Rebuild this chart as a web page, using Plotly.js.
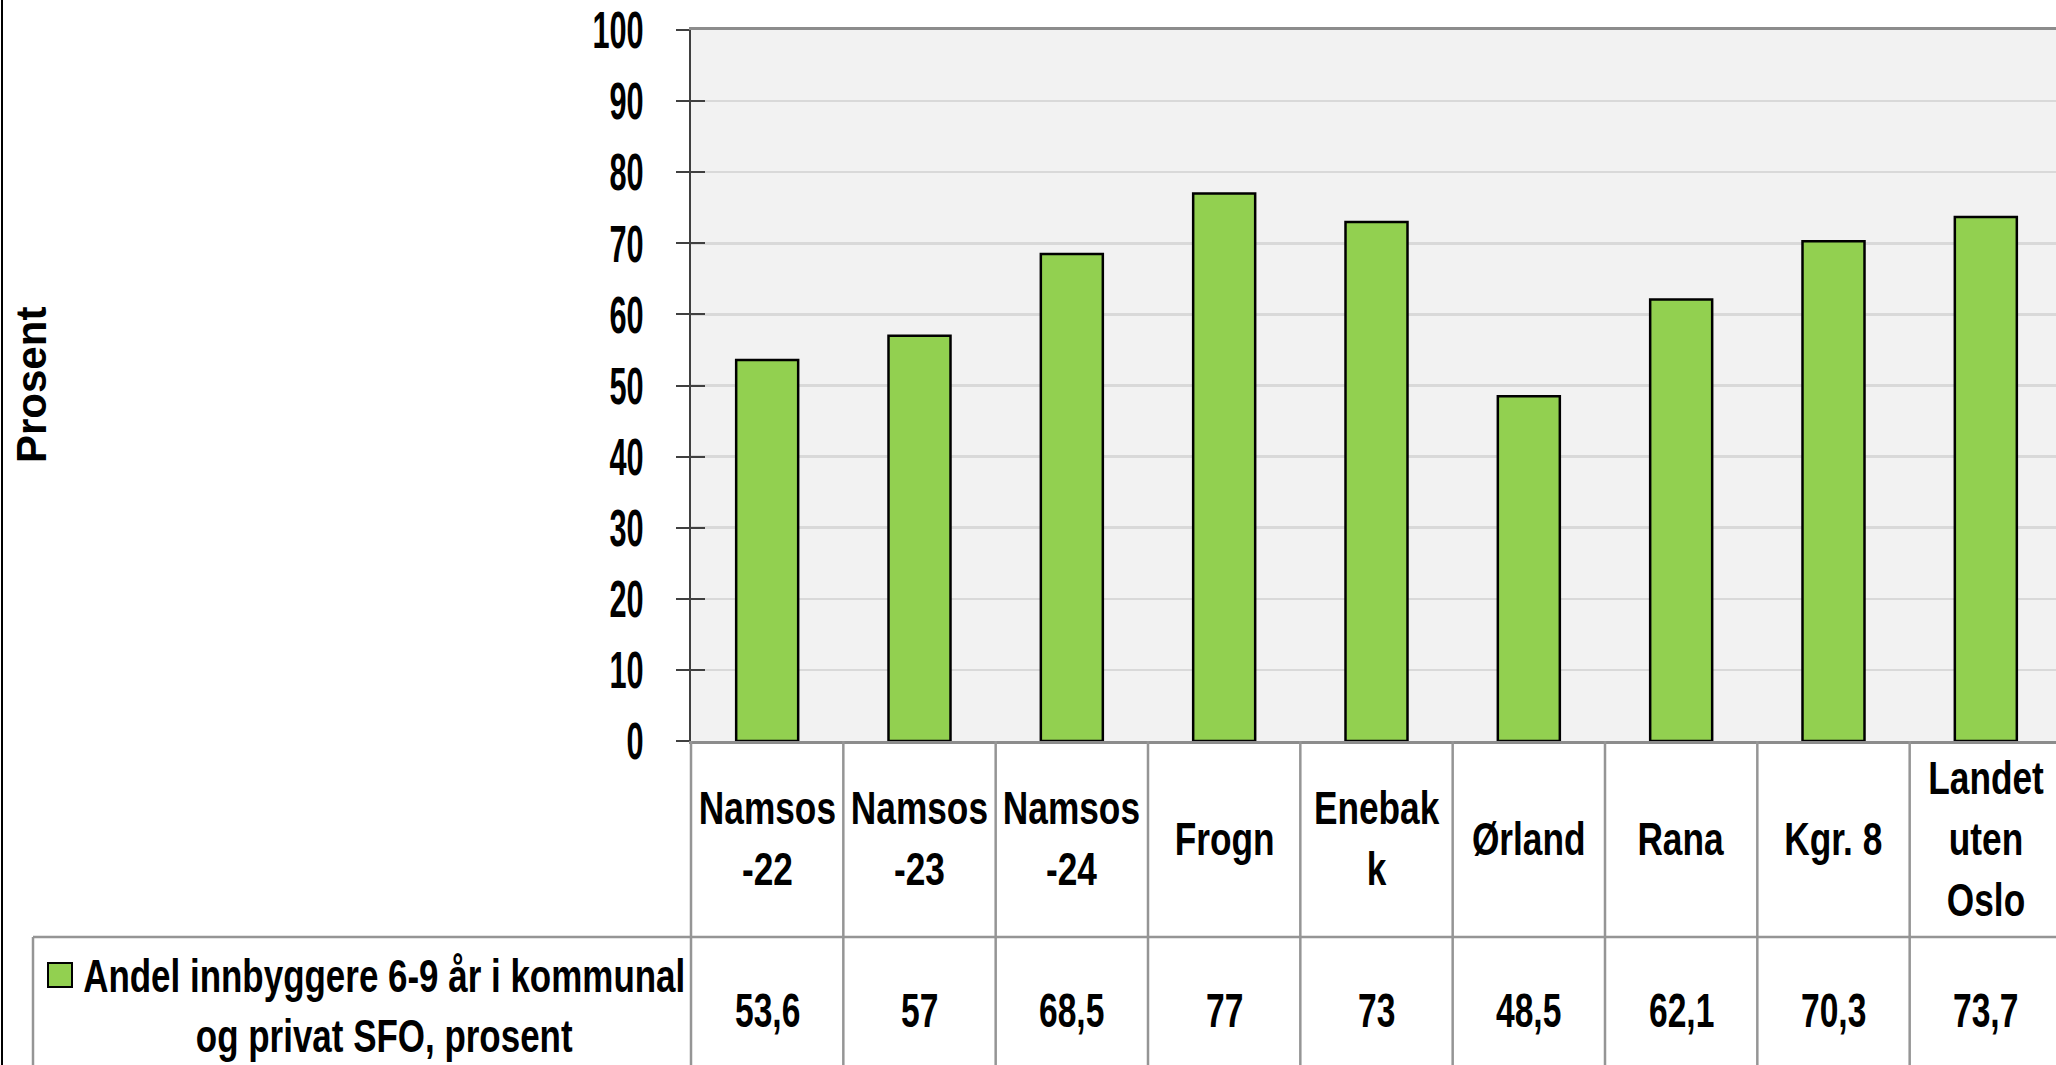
<!DOCTYPE html>
<html>
<head>
<meta charset="utf-8">
<script src="https://cdn.plot.ly/plotly-3.0.1.min.js"></script>
<style>
  html, body { margin: 0; padding: 0; overflow: hidden; background: #ffffff; }
  #chart { width: 2062px; height: 1065px; }
</style>
</head>
<body>
<div id="chart"></div>
<script>
// ---------- data ----------
const categories = ['Namsos -22', 'Namsos -23', 'Namsos -24', 'Frogn', 'Enebakk', 'Ørland', 'Rana', 'Kgr. 8', 'Landet uten Oslo'];
const tickLabels = ['Namsos<br>-22', 'Namsos<br>-23', 'Namsos<br>-24', 'Frogn', 'Enebak<br>k', 'Ørland', 'Rana', 'Kgr. 8', 'Landet<br>uten<br>Oslo'];
const values = [53.6, 57, 68.5, 77, 73, 48.5, 62.1, 70.3, 73.7];
const seriesName = 'Andel innbyggere 6-9 år i kommunal<br>og privat SFO, prosent';
const yTickValues = [0, 10, 20, 30, 40, 50, 60, 70, 80, 90, 100];
const yTitle = 'Prosent';

// ---------- layout geometry (pixels) ----------
const FIG_W = 2062, FIG_H = 1065;
const L = 691, T = 30, B_PX = 741;
const W = FIG_W - L, H = B_PX - T;
const px = x => (x - L) / W;
const py = y => (B_PX - y) / H;

const FONT = 'Liberation Sans, Arial, sans-serif';
const GREEN = '#92d050';
const GRID = '#d9d9d9';
const TABLE = '#959595';
const AXIS = '#404040';

const data = [
  {
    type: 'bar',
    x: categories,
    y: values,
    name: seriesName,
    marker: { color: GREEN, line: { color: '#000000', width: 2.5 } },
    hoverinfo: 'skip',
    showlegend: false
  },
  { type: 'scatter', x: [], y: [], yaxis: 'y2', showlegend: false, hoverinfo: 'skip' }
];

const annotations = [];
const scales = [];
categories.forEach((c, i) => {
  annotations.push({
    xref: 'x', x: c, yref: 'paper', y: py(838),
    text: tickLabels[i], showarrow: false, xanchor: 'center', yanchor: 'middle',
    font: { family: FONT, size: 47, weight: 'bold', color: '#000000' }
  });
  scales.push(0.75);
});
values.forEach((v, i) => {
  annotations.push({
    xref: 'x', x: categories[i], yref: 'paper', y: py(1010),
    text: String(v).replace('.', ','), showarrow: false, xanchor: 'center', yanchor: 'middle',
    font: { family: FONT, size: 48, weight: 'bold', color: '#000000' }
  });
  scales.push(0.70);
});
annotations.push({
  xref: 'paper', x: px(384), yref: 'paper', y: py(1006),
  text: seriesName, showarrow: false, xanchor: 'center', yanchor: 'middle', align: 'center',
  font: { family: FONT, size: 46, weight: 'bold', color: '#000000' }
});
scales.push(0.76);
annotations.push({
  xref: 'paper', x: px(31), yref: 'paper', y: py(385),
  text: yTitle, textangle: -90, showarrow: false, xanchor: 'center', yanchor: 'middle',
  font: { family: FONT, size: 42, weight: 'bold', color: '#000000' }
});
scales.push(1);

const shapes = [];
// left border of the table under the plot
shapes.push({ type: 'line', xref: 'paper', yref: 'paper', x0: 0, x1: 0, y0: 0, y1: py(FIG_H + 10), line: { color: TABLE, width: 2.5 } });
// category dividers in the table
for (let i = 0; i < categories.length - 1; i++) {
  shapes.push({ type: 'line', xref: 'x', yref: 'paper', x0: i + 0.5, x1: i + 0.5, y0: 0, y1: py(FIG_H + 10), line: { color: TABLE, width: 2.5 } });
}
// row divider between labels and values
shapes.push({ type: 'line', xref: 'paper', yref: 'paper', x0: px(33), x1: 1, y0: py(937), y1: py(937), line: { color: TABLE, width: 2.5 } });
// legend cell left border
shapes.push({ type: 'line', xref: 'paper', yref: 'paper', x0: px(33), x1: px(33), y0: py(937), y1: py(FIG_H + 10), line: { color: TABLE, width: 2.5 } });
// outer frame, left
shapes.push({ type: 'line', xref: 'paper', yref: 'paper', x0: px(2), x1: px(2), y0: py(-5), y1: py(FIG_H + 10), line: { color: '#000000', width: 2 } });
// legend key square
shapes.push({ type: 'rect', xref: 'paper', yref: 'paper', x0: px(48), x1: px(72), y0: py(963), y1: py(987), fillcolor: GREEN, line: { color: '#000000', width: 2 } });

const layout = {
  width: FIG_W, height: FIG_H,
  margin: { l: L, r: 0, t: T, b: FIG_H - B_PX, pad: 0, autoexpand: false },
  paper_bgcolor: '#ffffff',
  plot_bgcolor: '#f2f2f2',
  bargap: 0.593,
  showlegend: false,
  xaxis: {
    type: 'category', categoryorder: 'array', categoryarray: categories,
    range: [-0.5, categories.length - 0.5],
    showticklabels: false, ticks: '', showgrid: false, zeroline: false,
    showline: true, mirror: true, linecolor: '#8c8c8c', linewidth: 3, fixedrange: true
  },
  yaxis: {
    range: [0, 100], tickvals: yTickValues, ticktext: yTickValues.map(String),
    ticks: 'outside', ticklen: 13, tickwidth: 2, tickcolor: AXIS,
    showline: true, linecolor: AXIS, linewidth: 2,
    showgrid: true, gridcolor: GRID, gridwidth: 2.5, zeroline: false,
    tickfont: { family: FONT, size: 52, weight: 'bold', color: '#000000' },
    ticklabelstandoff: 22, fixedrange: true
  },
  yaxis2: {
    overlaying: 'y', anchor: 'x', side: 'left', range: [0, 100], tickvals: yTickValues,
    ticks: 'inside', ticklen: 14, tickwidth: 2, tickcolor: AXIS,
    showticklabels: false, showgrid: false, zeroline: false, showline: false, fixedrange: true
  },
  annotations: annotations,
  shapes: shapes
};

function squash(t, s) {
  const X = parseFloat(t.getAttribute('x')) || 0;
  const tr = t.getAttribute('transform') || '';
  t.setAttribute('transform', tr + ' translate(' + X + ',0) scale(' + s + ',1) translate(' + (-X) + ',0)');
}

Plotly.newPlot('chart', data, layout, { staticPlot: true, displayModeBar: false, responsive: false }).then(gd => {
  gd.querySelectorAll('g.ytick text').forEach(t => squash(t, 0.59));
  gd.querySelectorAll('g.annotation').forEach(g => {
    const i = +g.getAttribute('data-index');
    const s = scales[i];
    if (s && s !== 1) g.querySelectorAll('text').forEach(t => squash(t, s));
  });
});
</script>
</body>
</html>
